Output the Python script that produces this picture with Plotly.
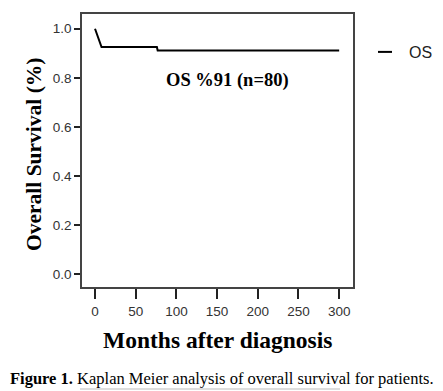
import plotly.graph_objects as go

months = [0, 8, 76, 77, 300]
survival = [1.0, 0.925, 0.925, 0.911, 0.911]
x_ticks = [0, 50, 100, 150, 200, 250, 300]
y_ticks = [0.0, 0.2, 0.4, 0.6, 0.8, 1.0]
y_tick_labels = ["0.0", "0.2", "0.4", "0.6", "0.8", "1.0"]
series_name = "OS"
annotation_text = "OS %91 (n=80)"

OFF = 8  # page body margin
W, H = 443 - OFF, 391 - OFF
L, R, T, B = 82 - OFF, 353 - OFF, 14 - OFF, 287 - OFF

def px(xp):
    return (xp - OFF - L) / (R - L)

def py(yp):
    return (B - (yp - OFF)) / (B - T)

fig = go.Figure()
fig.add_trace(go.Scatter(x=months, y=survival, mode="lines", name=series_name,
                         showlegend=False, line=dict(color="black", width=2)))
fig.add_trace(go.Scatter(x=[None], y=[None], mode="markers", name=series_name,
                         marker=dict(symbol="line-ew-open", size=10, color="black",
                                     line=dict(color="black", width=2))))

serif = "Liberation Serif"
sans = "Liberation Sans"

fig.update_layout(
    width=W, height=H,
    margin=dict(l=L, r=W - R, t=T, b=H - B, autoexpand=False),
    paper_bgcolor="white", plot_bgcolor="white",
    showlegend=True,
    legend=dict(x=px(361), y=py(52), xanchor="left", yanchor="middle",
                font=dict(family=sans, size=16, color="#222"),
                bgcolor="rgba(0,0,0,0)", itemwidth=38),
    xaxis=dict(range=[-16, 317], tickvals=x_ticks, ticktext=[str(v) for v in x_ticks],
               showgrid=False, zeroline=False, showline=True, mirror=True,
               linecolor="#444", linewidth=1.5, ticks="outside", ticklen=10,
               tickcolor="#222", tickwidth=1.5, ticklabelstandoff=1,
               tickfont=dict(family=sans, size=13.5, color="#333")),
    yaxis=dict(range=[-0.053, 1.06], tickvals=y_ticks, ticktext=y_tick_labels,
               showgrid=False, zeroline=False, showline=True, mirror=True,
               linecolor="#444", linewidth=1.5, ticks="outside", ticklen=6,
               tickcolor="#222", tickwidth=1.5,
               tickfont=dict(family=sans, size=13.5, color="#333")),
)

def note(xp, yp, text, size, angle=0):
    fig.add_annotation(x=px(xp), y=py(yp), xref="paper", yref="paper",
                       xanchor="center", yanchor="middle", text=text,
                       showarrow=False, textangle=angle,
                       font=dict(family=serif, size=size, color="black"))

note(227, 80, "<b>" + annotation_text + "</b>", 18.5)
note(34, 155, "<b>Overall Survival (%)</b>", 21.5, -90)
note(217, 340, "<b>Months after diagnosis</b>", 23.5)
note(221.5, 378, "<b>Figure 1.</b> Kaplan Meier analysis of overall survival for patients.", 16.5)
fig.add_shape(type="line", xref="paper", yref="paper", x0=px(80), x1=px(340),
              y0=py(389), y1=py(389), line=dict(color="#bbb", width=1))

fig.write_html("out.html")
